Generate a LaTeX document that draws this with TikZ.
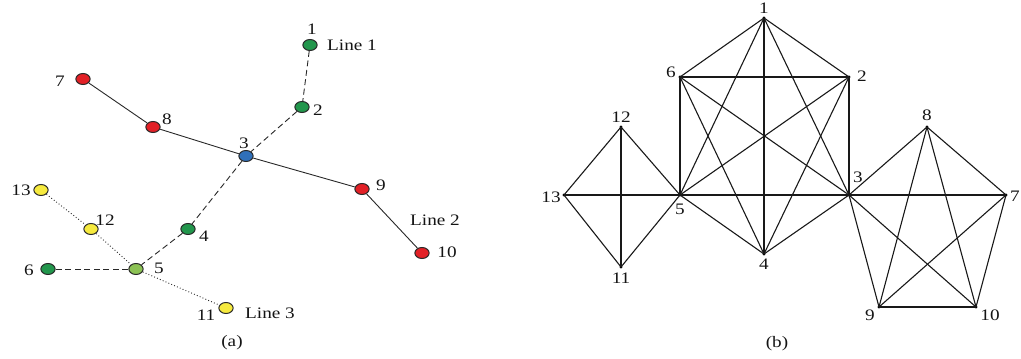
\documentclass[tikz,border=0pt]{standalone}
\usepackage{fontspec}
\setmainfont{Liberation Serif}
\usetikzlibrary{calc}
\definecolor{cred}{RGB}{226,32,38}
\definecolor{cgreen}{RGB}{34,150,76}
\definecolor{cblue}{RGB}{48,112,186}
\definecolor{cyellow}{RGB}{246,234,62}
\definecolor{clgreen}{RGB}{140,194,84}
\definecolor{cline}{RGB}{40,40,40}
\tikzset{
  vtx/.style={circle, draw=cline, line width=1pt, minimum size=11pt, inner sep=0pt, xscale=1.3},
  lab/.style={font=\fontsize{16}{19}\selectfont, xscale=1.2, inner sep=0pt, text=black!92},
  solidl/.style={draw=cline, line width=0.9pt},
  dashl/.style={draw=cline, line width=0.9pt, dash pattern=on 6pt off 3.5pt},
  dotl/.style={draw=cline, line width=0.9pt, dash pattern=on 0.9pt off 2.2pt},
  dot/.style={circle, fill=black, inner sep=0pt, minimum size=3.2pt},
  gedge/.style={draw=black!90, line width=1.1pt}
}
\begin{document}
\begin{tikzpicture}[x=1pt,y=-1pt]
\useasboundingbox (0,0) rectangle (1021,359);
% ---------- (a) ----------
\node[vtx, fill=cgreen] (a1) at (310,45) {};
\node[vtx, fill=cgreen] (a2) at (302,107) {};
\node[vtx, fill=cblue] (a3) at (246,156) {};
\node[vtx, fill=cgreen] (a4) at (188,229) {};
\node[vtx, fill=clgreen] (a5) at (136,269) {};
\node[vtx, fill=cgreen] (a6) at (48,269) {};
\node[vtx, fill=cred] (a7) at (83,79) {};
\node[vtx, fill=cred] (a8) at (153,127) {};
\node[vtx, fill=cred] (a9) at (362,189) {};
\node[vtx, fill=cred] (a10) at (422,253) {};
\node[vtx, fill=cyellow] (a11) at (226,308) {};
\node[vtx, fill=cyellow] (a12) at (91,229) {};
\node[vtx, fill=cyellow] (a13) at (41,190) {};
\draw[dashl] (a1) -- (a2);
\draw[dashl] (a2) -- (a3);
\draw[dashl] (a3) -- (a4);
\draw[dashl] (a4) -- (a5);
\draw[dashl] (a5) -- (a6);
\draw[solidl] (a7) -- (a8);
\draw[solidl] (a8) -- (a3);
\draw[solidl] (a3) -- (a9);
\draw[solidl] (a9) -- (a10);
\draw[dotl] (a13) -- (a12);
\draw[dotl] (a12) -- (a5);
\draw[dotl] (a5) -- (a11);
\node[lab] (la1) at (312,29) {1};
\node[lab] (lline1) at (352,45) {Line 1};
\node[lab] (la2) at (318,110) {2};
\node[lab] (la3) at (244,143) {3};
\node[lab] (la7) at (60,81) {7};
\node[lab] (la8) at (167,119) {8};
\node[lab] (la9) at (381,185) {9};
\node[lab] (lline2) at (435,220) {Line 2};
\node[lab] (la10) at (447,252) {10};
\node[lab] (la13) at (21,190) {13};
\node[lab] (la12) at (105,220) {12};
\node[lab] (la4) at (204,236) {4};
\node[lab] (la6) at (29,270) {6};
\node[lab] (la5) at (159,268) {5};
\node[lab] (la11) at (206,315) {11};
\node[lab] (lline3) at (270,313) {Line 3};
\node[lab] (lcapa) at (232,343) {(a)};
% ---------- (b) ----------
\node[dot] (b1) at (764,18) {};
\node[dot] (b2) at (849,77) {};
\node[dot] (b3) at (849,195) {};
\node[dot] (b4) at (764,254) {};
\node[dot] (b5) at (680,195) {};
\node[dot] (b6) at (680,77) {};
\node[dot] (b7) at (1006,195) {};
\node[dot] (b8) at (927,127) {};
\node[dot] (b9) at (879,307) {};
\node[dot] (b10) at (976,307) {};
\node[dot] (b11) at (621,267) {};
\node[dot] (b12) at (621,127) {};
\node[dot] (b13) at (564,195) {};
% K6 on 1..6
\foreach \u/\v in {1/2,1/3,1/4,1/5,1/6,2/3,2/4,2/5,2/6,3/4,3/5,3/6,4/5,4/6,5/6}
  \draw[gedge] (b\u.center) -- (b\v.center);
% K4 on 5,11,12,13
\foreach \u/\v in {12/13,12/5,12/11,13/5,13/11,11/5}
  \draw[gedge] (b\u.center) -- (b\v.center);
% K5 on 3,7,8,9,10
\foreach \u/\v in {3/8,3/7,3/9,3/10,8/7,8/9,8/10,7/9,7/10,9/10}
  \draw[gedge] (b\u.center) -- (b\v.center);
\node[lab] (lb1) at (764,8) {1};
\node[lab] (lb6) at (671,72) {6};
\node[lab] (lb2) at (862,76) {2};
\node[lab] (lb12) at (621,117) {12};
\node[lab] (lb8) at (927,115) {8};
\node[lab] (lb3) at (858,177) {3};
\node[lab] (lb13) at (551,197) {13};
\node[lab] (lb5) at (680,209) {5};
\node[lab] (lb7) at (1015,196) {7};
\node[lab] (lb11) at (621,278) {11};
\node[lab] (lb4) at (764,264) {4};
\node[lab] (lb9) at (870,315) {9};
\node[lab] (lb10) at (990,315) {10};
\node[lab] (lcapb) at (777,344) {(b)};
\end{tikzpicture}
\end{document}
